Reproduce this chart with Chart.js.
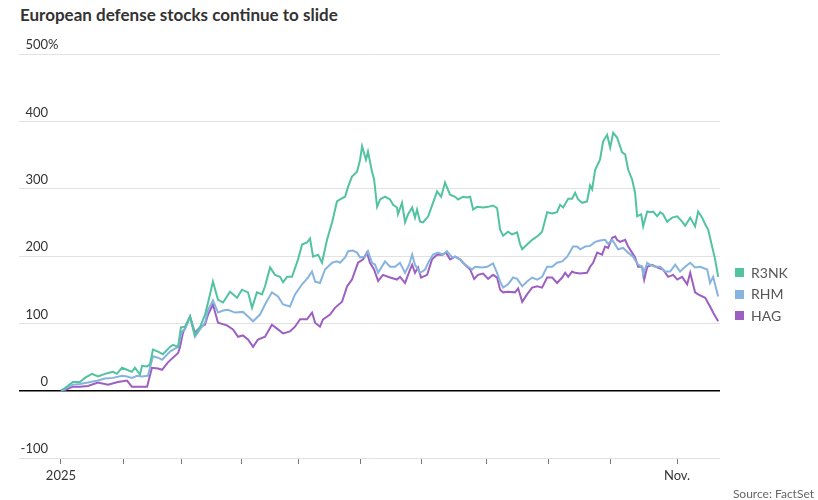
<!DOCTYPE html>
<html>
<head>
<meta charset="utf-8">
<script src="https://cdn.jsdelivr.net/npm/chart.js@4/dist/chart.umd.min.js"></script>
<style>
  html, body { margin: 0; padding: 0; background: #fff; }
  #wrap { position: relative; width: 818px; height: 500px; font-family: Lato, "Noto Sans", sans-serif; }
  #title { position: absolute; left: 20px; top: 4px; font-size: 17px; font-weight: 700; color: #333; }
  #source { position: absolute; right: 4px; top: 486px; font-size: 12px; color: #666; }
  #legend { position: absolute; left: 735px; top: 262px; font-size: 14px; color: #555; }
  #legend div { height: 21.5px; line-height: 18px; display: flex; align-items: center; }
  #legend span.box { display: inline-block; width: 9px; height: 9px; margin-right: 7px; }
  canvas { position: absolute; left: 0; top: 0; }
</style>
</head>
<body>
<div id="wrap">
  <div id="title">European defense stocks continue to slide</div>
  <canvas id="chart" width="818" height="500"></canvas>
  <div id="legend"></div>
  <div id="source">Source: FactSet</div>
</div>
<script>
// x = days since Jan 1 2025, y = % change
const r3nk = [[0,0],[2,4],[5.9,13],[9.4,13],[11.8,19],[15.3,25],[18.3,21],[21.7,25],[24.2,27],[25.7,28],[27.6,25],[30.1,34],[32.6,31],[35,28],[36.5,34],[39,24],[40,37],[42.5,36],[43.9,39],[45.4,61],[47.9,58],[50.3,54],[53.8,65],[55.3,68],[57.8,65],[59.2,94],[61.2,95],[63.7,110],[66.1,83],[68.6,94],[71.1,113],[72.6,131],[75,162],[77.5,135],[80,131],[83.4,147],[86.9,138],[89.3,150],[92.3,146],[94.3,123],[96.7,146],[99.2,143],[100.7,155],[103.2,183],[105.6,172],[108.1,169],[109.6,161],[111.6,169],[114,169],[117,195],[119,217],[121.4,220],[122.9,226],[124.4,199],[126.9,202],[128.8,190],[131.3,224],[133.8,250],[136.2,281],[137.7,284],[140.2,288],[141.7,303],[143.6,318],[146.1,325],[147.6,343],[148.6,363],[150.5,343],[151.5,355],[153.5,325],[154.5,314],[156,273],[157.5,284],[159.9,288],[162.4,284],[163.9,276],[165.8,272],[166.3,262],[168.3,279],[169.8,250],[171.3,262],[173.3,272],[174.7,257],[175.7,269],[177.2,251],[178.7,250],[181.2,259],[183.6,279],[185.6,296],[187.6,288],[189.5,309],[192,291],[194.5,288],[196,284],[198.4,288],[200.4,287],[201.9,288],[203.4,269],[205.3,273],[208.3,272],[210.8,273],[213.2,275],[215.2,271],[216.7,239],[218.2,230],[220.6,236],[222.6,232],[225.1,235],[226.6,217],[227.6,210],[230,217],[232.5,224],[235.4,230],[237.4,236],[239.9,265],[242.4,263],[244.8,265],[246.3,276],[247.8,272],[250.3,285],[252.2,285],[253.7,294],[255.2,284],[257.2,279],[259.6,281],[261.1,305],[262.1,299],[263.6,328],[266,343],[267.5,370],[269.5,380],[271,361],[272.5,383],[274.4,376],[276.9,354],[278.4,351],[279.9,328],[281.8,314],[283.3,294],[284.3,259],[286.3,262],[287.3,244],[289.3,266],[290.7,265],[292.2,266],[294.2,259],[295.7,265],[297.1,262],[299.1,251],[301.6,257],[304.1,259],[306.5,251],[308,245],[310.5,257],[312.9,244],[314.4,266],[316.4,257],[317.9,247],[319.4,239],[321.3,214],[322.8,195],[324.3,169]];

const rhm = [[0,0],[2,3],[5.9,9],[9.4,10],[13.3,12],[18.3,15],[21.7,18],[25.7,19],[30.1,22],[32.6,21],[35,19],[37.5,22],[40,21],[42.9,22],[45.4,51],[47.9,49],[49.9,46],[53.8,58],[57.8,65],[59.7,88],[61.2,91],[63.7,110],[66.1,80],[68.6,91],[71.1,101],[72.6,120],[75,134],[77.5,116],[80,119],[82.4,120],[85.9,116],[89.8,117],[92.3,110],[94.8,103],[98.2,113],[100.7,128],[104.1,146],[107.1,140],[109.6,128],[113,125],[115.5,143],[119,158],[121.9,168],[123.9,177],[125.4,162],[127.8,160],[130.3,180],[133.8,190],[136.2,192],[137.7,190],[140.2,198],[141.7,207],[144.1,208],[146.1,205],[147.6,198],[150.1,199],[151.5,207],[153.5,190],[155,187],[156.5,175],[159.9,192],[162.4,184],[164.9,184],[167.3,190],[169.8,175],[171.8,187],[173.3,202],[174.7,187],[177.2,175],[179.7,180],[181.2,190],[183.6,202],[186.1,205],[188.6,202],[190.5,207],[193,198],[194.5,199],[196.9,195],[198.4,190],[200.9,184],[202.9,180],[204.4,184],[207.8,183],[210.3,184],[213.2,189],[215.2,175],[216.7,162],[218.2,153],[220.6,158],[223.1,168],[225.1,166],[227.6,155],[230,162],[232.5,168],[235,165],[237.4,169],[239.9,184],[242.4,184],[244.8,190],[247.3,192],[249.8,199],[252.7,214],[254.7,214],[256.2,210],[258.7,214],[261.1,215],[263.6,221],[266,223],[268.5,224],[270,218],[272,224],[273.5,217],[274.9,210],[277.4,212],[279.9,205],[282.3,199],[284.8,187],[286.8,184],[287.3,172],[289.3,190],[290.7,187],[293.2,184],[295.7,184],[298.1,177],[300.6,177],[303.1,187],[305.5,177],[308,184],[310.5,190],[312.9,183],[315.4,184],[318.9,180],[320.3,160],[321.8,169],[324.3,140]];

const hag = [[0,0],[2,1],[5.9,6],[9.4,6],[13.3,7],[18.3,12],[23.2,9],[28.1,13],[32.6,15],[35,6],[40,6],[42.5,6],[44.9,34],[47.9,33],[49.9,31],[52.8,42],[57.8,56],[58.7,64],[60.2,86],[63.7,110],[66.1,86],[68.6,94],[71.1,98],[72.6,113],[75,128],[77.5,101],[81.9,97],[84.9,91],[87.4,80],[89.8,82],[92.3,76],[94.8,65],[97.2,76],[100.7,80],[104.1,98],[107.1,91],[109.6,85],[113,88],[115.5,95],[118,106],[121.4,106],[123.9,116],[125.4,101],[127.8,95],[129.3,106],[132.8,113],[135.2,123],[138.7,132],[141.2,155],[143.6,165],[146.6,190],[149.1,195],[151,205],[152.5,190],[154.5,180],[156.5,163],[158.9,172],[162.4,168],[165.8,165],[167.3,169],[169.8,160],[172.3,180],[173.3,187],[174.7,175],[176.2,183],[177.7,168],[180.7,172],[183.1,195],[185.6,202],[188.1,202],[190,205],[192,195],[194.5,199],[196.9,195],[199.4,187],[201.9,180],[203.9,166],[205.8,172],[208.3,174],[210.8,166],[213.2,172],[215.2,168],[216.7,150],[218.2,146],[220.6,147],[224.1,146],[225.6,152],[227.6,132],[230,143],[232.5,153],[235,155],[237.4,153],[239.9,168],[242.4,168],[244.8,160],[247.3,168],[248.8,175],[250.3,169],[252.2,177],[253.7,175],[256.2,174],[259.6,175],[261.1,184],[262.6,190],[264.6,205],[267,202],[268.5,214],[270,212],[272,227],[273.5,229],[274.4,224],[275.9,221],[278.4,224],[279.9,214],[281.8,205],[283.3,198],[284.8,184],[286.8,184],[287.8,165],[289.3,184],[291.7,187],[294.2,183],[297.1,180],[299.6,169],[302.1,172],[304.1,165],[306.5,169],[309,158],[310.5,175],[312.9,146],[314.4,143],[317.9,138],[320.3,125],[321.8,116],[324.3,103]];

const seriesNames = ["R3NK", "RHM", "HAG"];
const seriesColors = ["#52c3a0", "#86b4de", "#9d5fc0"];
// month tick positions (first trading day of each month, in the same day units)
const monthTicks = [0, 31.1, 59.7, 89.3, 117, 147.6, 177.7, 209.8, 240.4, 271, 304];
const monthLabels = ["2025", "", "", "", "", "", "", "", "", "", "Nov."];
const yTicks = [-100, 0, 100, 200, 300, 400, 500];

const font = "Lato, 'Noto Sans', sans-serif";

const yLabelPlugin = {
  id: "yLabels",
  afterDraw(chart) {
    const y = chart.scales.y;
    const c = chart.ctx;
    c.save();
    c.font = "13px " + font;
    c.fillStyle = "#333";
    c.textBaseline = "middle";
    yTicks.forEach((v) => {
      const py = y.getPixelForValue(v) - 9;
      c.textAlign = "right";
      c.fillText(String(v), 48, py);
      if (v === 500) {
        c.textAlign = "left";
        c.fillText("%", 48, py);
      }
    });
    c.restore();
  },
};

const datasets = [r3nk, rhm, hag].map((s, i) => ({
  label: seriesNames[i],
  data: s.map((p) => ({ x: p[0], y: p[1] })),
  borderColor: seriesColors[i],
  borderWidth: 2,
  pointRadius: 0,
  fill: false,
  tension: 0,
}));

new Chart(document.getElementById("chart"), {
  type: "line",
  data: { datasets },
  options: {
    responsive: false,
    animation: false,
    layout: { padding: { left: 19, right: 98, top: 54, bottom: 0 } },
    plugins: { legend: { display: false }, tooltip: { enabled: false } },
    scales: {
      x: {
        type: "linear",
        min: -20.7,
        max: 325.2,
        afterBuildTicks: (scale) => {
          scale.ticks = monthTicks.map((v) => ({ value: v }));
        },
        afterFit: (scale) => { scale.height = 42; },
        border: { display: false },
        grid: { drawOnChartArea: false, drawTicks: true, tickLength: 6, color: "#777" },
        ticks: {
          autoSkip: false,
          maxRotation: 0,
          padding: 4,
          color: "#333",
          font: { family: font, size: 13 },
          callback: (v) => monthLabels[monthTicks.indexOf(v)],
        },
      },
      y: {
        min: -100,
        max: 500,
        afterBuildTicks: (scale) => {
          scale.ticks = yTicks.map((v) => ({ value: v }));
        },
        afterFit: (scale) => { scale.width = 0; },
        border: { display: false },
        ticks: { display: false },
        grid: {
          drawTicks: false,
          color: (ctx) => (ctx.tick && ctx.tick.value === 0 ? "#000" : "#e2e2e2"),
          lineWidth: (ctx) => (ctx.tick && ctx.tick.value === 0 ? 1.5 : 1),
        },
      },
    },
  },
  plugins: [yLabelPlugin],
});

// legend
const legend = document.getElementById("legend");
seriesNames.forEach((name, i) => {
  const row = document.createElement("div");
  row.innerHTML = `<span class="box" style="background:${seriesColors[i]}"></span>${name}`;
  legend.appendChild(row);
});
</script>
</body>
</html>
